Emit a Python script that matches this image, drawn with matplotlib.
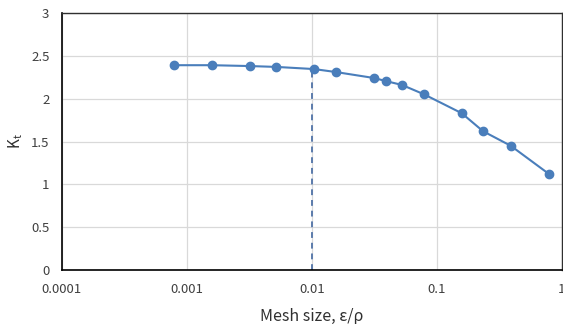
import matplotlib
matplotlib.use("Agg")
import matplotlib.pyplot as plt
from matplotlib.ticker import FixedLocator, FixedFormatter

plt.rcParams['font.family'] = ['Noto Sans CJK KR', 'DejaVu Sans']

# mesh size (eps/rho) and stress concentration factor
mesh_size = [0.00079, 0.00158, 0.0032, 0.0052, 0.0104, 0.0156, 0.0316, 0.039,
             0.0525, 0.079, 0.158, 0.234, 0.39, 0.79]
kt = [2.39, 2.39, 2.38, 2.37, 2.345, 2.31, 2.24, 2.205, 2.16, 2.05, 1.83,
      1.62, 1.45, 1.12]

x_ticks = [0.0001, 0.001, 0.01, 0.1, 1]
x_labels = ['0.0001', '0.001', '0.01', '0.1', '1']
y_ticks = [0, 0.5, 1, 1.5, 2, 2.5, 3]
y_labels = ['0', '0.5', '1', '1.5', '2', '2.5', '3']

chosen_mesh = 0.01
chosen_kt = 2.345

blue = '#4a7ebb'

fig = plt.figure(figsize=(5.63, 3.31), dpi=100)
ax = fig.add_axes([0.110, 0.184, 0.888, 0.777])

ax.plot(mesh_size, kt, color=blue, lw=1.5, marker='o', ms=6,
        markerfacecolor=blue, markeredgecolor=blue, zorder=3)
ax.plot([chosen_mesh, chosen_mesh], [0, chosen_kt], color='#5b7bab',
        lw=1.4, ls=(0, (3, 2.5)), zorder=2)

ax.set_xscale('log')
ax.set_xlim(0.0001, 1)
ax.set_ylim(0, 3)
ax.xaxis.set_major_locator(FixedLocator(x_ticks))
ax.xaxis.set_major_formatter(FixedFormatter(x_labels))
ax.xaxis.set_minor_locator(FixedLocator([]))
ax.yaxis.set_major_locator(FixedLocator(y_ticks))
ax.yaxis.set_major_formatter(FixedFormatter(y_labels))

ax.grid(True, color='#d9d9d9', lw=0.9)
ax.set_axisbelow(True)
ax.tick_params(length=0, labelsize=9.5, colors='#404040', pad=9)
ax.tick_params(axis='x', pad=9)

for side in ['left', 'bottom']:
    ax.spines[side].set_color('black')
    ax.spines[side].set_linewidth(1.2)
for side in ['top', 'right']:
    ax.spines[side].set_color('#303030')
    ax.spines[side].set_linewidth(1.0)

ax.set_xlabel('Mesh size, ε/ρ', fontsize=11.5, color='#303030', labelpad=9)
ax.set_ylabel('K$_\\mathregular{t}$', fontsize=11, color='#303030', labelpad=4)

fig.savefig('out.png', dpi=100)
